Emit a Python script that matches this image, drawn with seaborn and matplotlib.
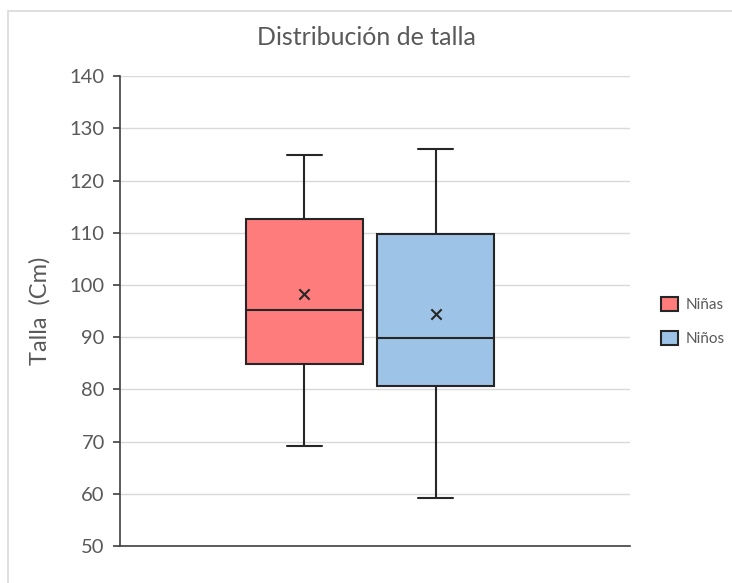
import numpy as np
import pandas as pd
import matplotlib
matplotlib.use("Agg")
import matplotlib.pyplot as plt
import seaborn as sns
from matplotlib.patches import Rectangle, Patch

# ---- data (five-number summaries) ----
groups = ["Niñas", "Niños"]
ninas = [69.2, 84.9, 95.2, 112.6, 124.9]
ninos = [59.1, 80.6, 89.8, 109.8, 126.0]
means = [98.3, 94.4]
colors = ["#FF7C7C", "#9DC3E6"]
yticks = [50, 60, 70, 80, 90, 100, 110, 120, 130, 140]

df = pd.DataFrame({
    "x": ["Talla"] * (len(ninas) + len(ninos)),
    "Sexo": [groups[0]] * len(ninas) + [groups[1]] * len(ninos),
    "Talla": ninas + ninos,
})

sns.set_theme(style="white")
plt.rcParams["font.family"] = ["Lato", "DejaVu Sans"]

fig = plt.figure(figsize=(7.32, 5.83), dpi=100)
ax = fig.add_axes([0.164, 0.0635, 0.697, 0.806])

edge = "#262626"
sns.boxplot(data=df, x="x", y="Talla", hue="Sexo", hue_order=groups,
            palette=colors, width=0.516, gap=0.112, whis=(0, 100),
            linecolor=edge, linewidth=1.5, fliersize=0, saturation=1,
            capwidths=0.069, legend=False, ax=ax)

# mean markers at the box centres
for patch, m in zip(list(ax.patches), means):
    verts = patch.get_path().vertices
    xs = patch.get_transform().transform(verts)
    xdata = ax.transData.inverted().transform(xs)[:, 0]
    cx = (xdata.min() + xdata.max()) / 2
    ax.scatter([cx], [m], marker="x", s=55, color=edge, linewidths=1.5, zorder=5)

ax.set_xlim(-0.49, 0.51)
ax.set_ylim(50, 140)
ax.set_yticks(yticks)
ax.set_xticks([])
ax.set_xlabel("")
ax.set_ylabel("Talla  (Cm)", fontsize=17, color="#595959", labelpad=14)
ax.yaxis.grid(True, color="#D9D9D9", linewidth=1)
ax.set_axisbelow(True)
for s in ["top", "right"]:
    ax.spines[s].set_visible(False)
for s in ["left", "bottom"]:
    ax.spines[s].set_color("#404040")
    ax.spines[s].set_linewidth(1.2)
ax.tick_params(axis="y", left=True, length=5, width=1.2, color="#404040",
               labelsize=14.5, labelcolor="#595959", pad=6)

fig.text(0.5, 0.935, "Distribución de talla", ha="center", va="center",
         fontsize=18, color="#595959")

handles = [Patch(facecolor=c, edgecolor=edge, linewidth=1.5) for c in colors]
fig.legend(handles, groups, loc="center left", bbox_to_anchor=(0.884, 0.4485),
           frameon=False, fontsize=11, labelcolor="#595959",
           handlelength=1.1, handleheight=1.1, handletextpad=0.5,
           labelspacing=1.2)

# chart-area border
fig.patches.append(Rectangle((8 / 732, -0.01), 1.2, 1 - 11 / 583 + 0.01,
                             transform=fig.transFigure, fill=False,
                             edgecolor="#D9D9D9", linewidth=1.2))

fig.savefig("out.png", dpi=100)
